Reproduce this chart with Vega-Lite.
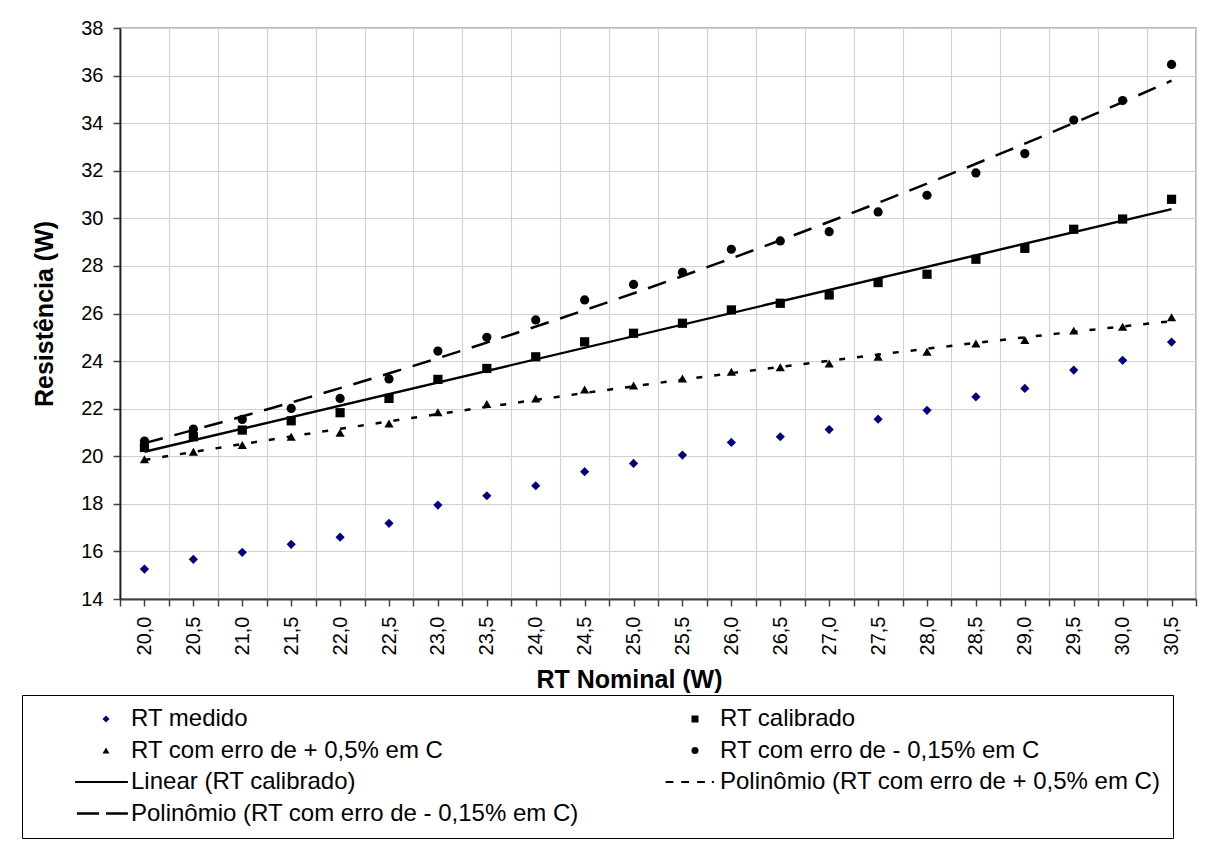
{
  "$schema": "https://vega.github.io/schema/vega-lite/v6.json",
  "width": 1076,
  "height": 571,
  "autosize": {"type": "none"},
  "padding": {"left": 120, "top": 28, "right": 16, "bottom": 242},
  "background": "white",
  "config": {
    "font": "Liberation Sans",
    "view": {"stroke": "#a0a0a0", "strokeWidth": 1.5},
    "axis": {
      "labelFont": "Liberation Sans",
      "labelFontSize": 20,
      "labelColor": "black",
      "titleFont": "Liberation Sans",
      "titleFontSize": 25,
      "titleFontWeight": "bold",
      "titleColor": "black",
      "gridColor": "#d2d2d2",
      "gridWidth": 1.2,
      "tickColor": "#404040",
      "tickSize": 7,
      "tickWidth": 1.5
    }
  },
  "data": {
    "values": [
      {"x": 20.0, "series": "RT medido", "y": 15.26},
      {"x": 20.5, "series": "RT medido", "y": 15.67},
      {"x": 21.0, "series": "RT medido", "y": 15.96},
      {"x": 21.5, "series": "RT medido", "y": 16.30},
      {"x": 22.0, "series": "RT medido", "y": 16.60},
      {"x": 22.5, "series": "RT medido", "y": 17.18},
      {"x": 23.0, "series": "RT medido", "y": 17.95},
      {"x": 23.5, "series": "RT medido", "y": 18.34},
      {"x": 24.0, "series": "RT medido", "y": 18.76},
      {"x": 24.5, "series": "RT medido", "y": 19.35},
      {"x": 25.0, "series": "RT medido", "y": 19.70},
      {"x": 25.5, "series": "RT medido", "y": 20.05},
      {"x": 26.0, "series": "RT medido", "y": 20.58},
      {"x": 26.5, "series": "RT medido", "y": 20.82},
      {"x": 27.0, "series": "RT medido", "y": 21.12},
      {"x": 27.5, "series": "RT medido", "y": 21.56},
      {"x": 28.0, "series": "RT medido", "y": 21.93},
      {"x": 28.5, "series": "RT medido", "y": 22.50},
      {"x": 29.0, "series": "RT medido", "y": 22.85},
      {"x": 29.5, "series": "RT medido", "y": 23.62},
      {"x": 30.0, "series": "RT medido", "y": 24.03},
      {"x": 30.5, "series": "RT medido", "y": 24.80},
      {"x": 20.0, "series": "RT calibrado", "y": 20.37},
      {"x": 20.5, "series": "RT calibrado", "y": 20.82},
      {"x": 21.0, "series": "RT calibrado", "y": 21.10},
      {"x": 21.5, "series": "RT calibrado", "y": 21.49},
      {"x": 22.0, "series": "RT calibrado", "y": 21.83},
      {"x": 22.5, "series": "RT calibrado", "y": 22.43},
      {"x": 23.0, "series": "RT calibrado", "y": 23.23},
      {"x": 23.5, "series": "RT calibrado", "y": 23.69},
      {"x": 24.0, "series": "RT calibrado", "y": 24.18},
      {"x": 24.5, "series": "RT calibrado", "y": 24.81},
      {"x": 25.0, "series": "RT calibrado", "y": 25.17},
      {"x": 25.5, "series": "RT calibrado", "y": 25.59},
      {"x": 26.0, "series": "RT calibrado", "y": 26.15},
      {"x": 26.5, "series": "RT calibrado", "y": 26.43},
      {"x": 27.0, "series": "RT calibrado", "y": 26.78},
      {"x": 27.5, "series": "RT calibrado", "y": 27.30},
      {"x": 28.0, "series": "RT calibrado", "y": 27.65},
      {"x": 28.5, "series": "RT calibrado", "y": 28.28},
      {"x": 29.0, "series": "RT calibrado", "y": 28.74},
      {"x": 29.5, "series": "RT calibrado", "y": 29.54},
      {"x": 30.0, "series": "RT calibrado", "y": 29.97},
      {"x": 30.5, "series": "RT calibrado", "y": 30.80},
      {"x": 20.0, "series": "RT com erro de + 0,5% em C", "y": 19.87},
      {"x": 20.5, "series": "RT com erro de + 0,5% em C", "y": 20.19},
      {"x": 21.0, "series": "RT com erro de + 0,5% em C", "y": 20.47},
      {"x": 21.5, "series": "RT com erro de + 0,5% em C", "y": 20.82},
      {"x": 22.0, "series": "RT com erro de + 0,5% em C", "y": 20.99},
      {"x": 22.5, "series": "RT com erro de + 0,5% em C", "y": 21.38},
      {"x": 23.0, "series": "RT com erro de + 0,5% em C", "y": 21.85},
      {"x": 23.5, "series": "RT com erro de + 0,5% em C", "y": 22.20},
      {"x": 24.0, "series": "RT com erro de + 0,5% em C", "y": 22.43},
      {"x": 24.5, "series": "RT com erro de + 0,5% em C", "y": 22.81},
      {"x": 25.0, "series": "RT com erro de + 0,5% em C", "y": 22.97},
      {"x": 25.5, "series": "RT com erro de + 0,5% em C", "y": 23.27},
      {"x": 26.0, "series": "RT com erro de + 0,5% em C", "y": 23.55},
      {"x": 26.5, "series": "RT com erro de + 0,5% em C", "y": 23.74},
      {"x": 27.0, "series": "RT com erro de + 0,5% em C", "y": 23.90},
      {"x": 27.5, "series": "RT com erro de + 0,5% em C", "y": 24.18},
      {"x": 28.0, "series": "RT com erro de + 0,5% em C", "y": 24.39},
      {"x": 28.5, "series": "RT com erro de + 0,5% em C", "y": 24.74},
      {"x": 29.0, "series": "RT com erro de + 0,5% em C", "y": 24.89},
      {"x": 29.5, "series": "RT com erro de + 0,5% em C", "y": 25.28},
      {"x": 30.0, "series": "RT com erro de + 0,5% em C", "y": 25.44},
      {"x": 30.5, "series": "RT com erro de + 0,5% em C", "y": 25.84},
      {"x": 20.0, "series": "RT com erro de - 0,15% em C", "y": 20.64},
      {"x": 20.5, "series": "RT com erro de - 0,15% em C", "y": 21.14},
      {"x": 21.0, "series": "RT com erro de - 0,15% em C", "y": 21.55},
      {"x": 21.5, "series": "RT com erro de - 0,15% em C", "y": 22.01},
      {"x": 22.0, "series": "RT com erro de - 0,15% em C", "y": 22.43},
      {"x": 22.5, "series": "RT com erro de - 0,15% em C", "y": 23.25},
      {"x": 23.0, "series": "RT com erro de - 0,15% em C", "y": 24.42},
      {"x": 23.5, "series": "RT com erro de - 0,15% em C", "y": 25.00},
      {"x": 24.0, "series": "RT com erro de - 0,15% em C", "y": 25.73},
      {"x": 24.5, "series": "RT com erro de - 0,15% em C", "y": 26.57},
      {"x": 25.0, "series": "RT com erro de - 0,15% em C", "y": 27.22},
      {"x": 25.5, "series": "RT com erro de - 0,15% em C", "y": 27.73},
      {"x": 26.0, "series": "RT com erro de - 0,15% em C", "y": 28.70},
      {"x": 26.5, "series": "RT com erro de - 0,15% em C", "y": 29.05},
      {"x": 27.0, "series": "RT com erro de - 0,15% em C", "y": 29.44},
      {"x": 27.5, "series": "RT com erro de - 0,15% em C", "y": 30.27},
      {"x": 28.0, "series": "RT com erro de - 0,15% em C", "y": 30.97},
      {"x": 28.5, "series": "RT com erro de - 0,15% em C", "y": 31.91},
      {"x": 29.0, "series": "RT com erro de - 0,15% em C", "y": 32.72},
      {"x": 29.5, "series": "RT com erro de - 0,15% em C", "y": 34.13},
      {"x": 30.0, "series": "RT com erro de - 0,15% em C", "y": 34.95},
      {"x": 30.5, "series": "RT com erro de - 0,15% em C", "y": 36.47}
    ]
  },
  "encoding": {
    "x": {
      "field": "x",
      "type": "quantitative",
      "scale": {"domain": [19.75, 30.75], "nice": false, "zero": false},
      "axis": {
        "title": "RT Nominal (W)",
        "titleX": 509,
        "titleY": 88,
        "titleBaseline": "alphabetic",
        "titleAnchor": null,
        "values": [19.75, 20, 20.25, 20.5, 20.75, 21, 21.25, 21.5, 21.75, 22, 22.25, 22.5, 22.75, 23, 23.25, 23.5, 23.75, 24, 24.25, 24.5, 24.75, 25, 25.25, 25.5, 25.75, 26, 26.25, 26.5, 26.75, 27, 27.25, 27.5, 27.75, 28, 28.25, 28.5, 28.75, 29, 29.25, 29.5, 29.75, 30, 30.25, 30.5, 30.75],
        "labelExpr": "abs(datum.value*2-round(datum.value*2))<0.01 ? replace(format(datum.value, '.1f'), '.', ',') : ''",
        "labelAngle": -90,
        "labelPadding": 10,
        "labelOverlap": false,
        "labelFlush": false,
        "labelBound": false,
        "domainColor": "#404040",
        "domainWidth": 2,
        "gridOpacity": {"condition": {"test": "abs(datum.value*2-round(datum.value*2))<0.01", "value": 0}, "value": 1}
      }
    },
    "y": {
      "field": "y",
      "type": "quantitative",
      "scale": {"domain": [14, 38], "nice": false, "zero": false},
      "axis": {
        "title": "Resistência (W)",
        "titleX": -68,
        "titleBaseline": "alphabetic",
        "values": [14, 16, 18, 20, 22, 24, 26, 28, 30, 32, 34, 36, 38],
        "labelPadding": 10,
        "domainColor": "#202020",
        "domainWidth": 1.8
      }
    }
  },
  "layer": [
    {
      "mark": {"type": "point", "filled": true, "opacity": 1, "size": 85},
      "encoding": {
        "shape": {
          "field": "series",
          "type": "nominal",
          "scale": {
            "domain": ["RT medido", "RT com erro de + 0,5% em C", "Linear (RT calibrado)", "Polinômio (RT com erro de - 0,15% em C)", "RT calibrado", "RT com erro de - 0,15% em C", "Polinômio (RT com erro de + 0,5% em C)"],
            "range": ["diamond", "triangle-up", "M-8.83,-0.3H6.26V0.3H-8.83Z", "M-8.31,-0.34H-1.97V0.34H-8.31ZM0,-0.34H6.26V0.34H0Z", "square", "circle", "M-8.4,-0.26H-6.17V0.26H-8.4ZM-3.94,-0.26H-1.71V0.26H-3.94ZM0.6,-0.26H2.83V0.26H0.6ZM4.8,-0.26H5.4V0.26H4.8Z"]
          },
          "legend": {
            "title": null,
            "orient": "none",
            "legendX": -98,
            "legendY": 667,
            "columns": 2,
            "columnPadding": 44,
            "rowPadding": 7.5,
            "symbolSize": 49,
            "symbolOffset": 60,
            "labelFont": "Liberation Sans",
            "labelFontSize": 24,
            "labelColor": "black",
            "labelOffset": 13,
            "labelLimit": 0,
            "strokeColor": "black",
            "fillColor": "white",
            "padding": 12,
            "symbolOpacity": 1
          }
        },
        "color": {
          "field": "series",
          "type": "nominal",
          "scale": {
            "domain": ["RT medido", "RT com erro de + 0,5% em C", "Linear (RT calibrado)", "Polinômio (RT com erro de - 0,15% em C)", "RT calibrado", "RT com erro de - 0,15% em C", "Polinômio (RT com erro de + 0,5% em C)"],
            "range": ["#000080", "black", "black", "black", "black", "black", "black"]
          },
          "legend": {
            "title": null,
            "orient": "none",
            "legendX": -98,
            "legendY": 667,
            "columns": 2,
            "columnPadding": 44,
            "rowPadding": 7.5,
            "symbolSize": 49,
            "symbolOffset": 60,
            "labelFont": "Liberation Sans",
            "labelFontSize": 24,
            "labelColor": "black",
            "labelOffset": 13,
            "labelLimit": 0,
            "strokeColor": "black",
            "fillColor": "white",
            "padding": 12,
            "symbolOpacity": 1
          }
        }
      }
    },
    {
      "transform": [
        {"filter": "datum.series == 'RT calibrado'"},
        {"regression": "y", "on": "x", "method": "linear"}
      ],
      "mark": {"type": "line", "color": "black", "strokeWidth": 2.4},
      "encoding": {}
    },
    {
      "transform": [
        {"filter": "datum.series == 'RT com erro de + 0,5% em C'"},
        {"regression": "y", "on": "x", "method": "poly", "order": 2}
      ],
      "mark": {"type": "line", "color": "black", "strokeWidth": 2.5, "strokeDash": [6, 12]},
      "encoding": {}
    },
    {
      "transform": [
        {"filter": "datum.series == 'RT com erro de - 0,15% em C'"},
        {"regression": "y", "on": "x", "method": "poly", "order": 2}
      ],
      "mark": {"type": "line", "color": "black", "strokeWidth": 2.5, "strokeDash": [19, 12]},
      "encoding": {}
    }
  ]
}
